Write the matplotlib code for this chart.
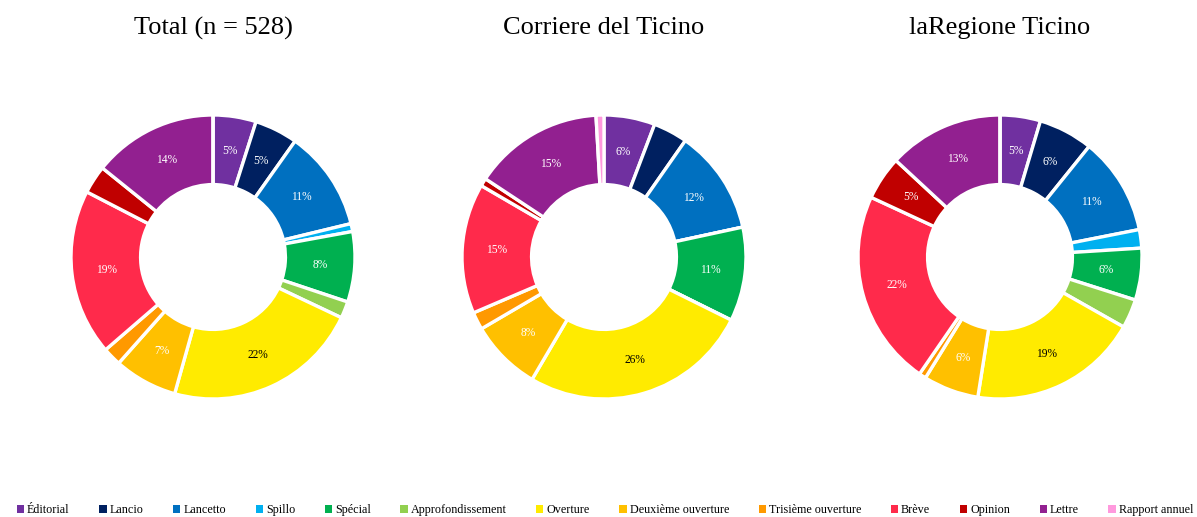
import matplotlib
matplotlib.use("Agg")
import matplotlib.pyplot as plt
from matplotlib.patches import Patch
import numpy as np

plt.rcParams['font.family'] = ['Liberation Serif', 'DejaVu Serif']

categories = ["Éditorial", "Lancio", "Lancetto", "Spillo", "Spécial", "Approfondissement",
              "Overture", "Deuxième ouverture", "Trisième ouverture", "Brève", "Opinion",
              "Lettre", "Rapport annuel"]
colors = ["#7030A0", "#002060", "#0070C0", "#00B0F0", "#00B050", "#92D050",
          "#FFEB00", "#FFC000", "#FF9900", "#FF2A4B", "#C00000", "#922090", "#FF99DD"]

# shares in percent
total = [4.9, 4.9, 11.4, 0.9, 8.0, 1.9, 22.3, 7.2, 2.1, 18.9, 3.2, 14.2, 0.0]
corriere = [5.8, 3.9, 11.9, 0.0, 10.7, 0.0, 26.1, 8.1, 2.0, 14.8, 0.9, 14.8, 0.9]
laregione = [4.6, 6.2, 11.1, 2.1, 5.9, 3.3, 19.3, 6.3, 0.8, 22.3, 5.0, 13.1, 0.0]

titles = ["Total (n = 528)", "Corriere del Ticino", "laRegione Ticino"]
data = [total, corriere, laregione]
centers_x = [213, 604, 1000]

W, H = 1197, 517
fig = plt.figure(figsize=(W / 100, H / 100), dpi=100)

R = 142  # outer radius in pixels
cy = 257
for title, vals, cx in zip(titles, data, centers_x):
    ax = fig.add_axes([(cx - R) / W, (H - cy - R) / H, 2 * R / W, 2 * R / H])
    wedges, texts = ax.pie(vals, colors=colors, startangle=90, counterclock=False,
                           radius=1.0, wedgeprops=dict(width=0.49, edgecolor="white", linewidth=2.4))
    tot = sum(vals)
    for w, v in zip(wedges, vals):
        if v / tot * 100 < 4.5:
            continue  # small slices have no label
        ang = np.deg2rad((w.theta1 + w.theta2) / 2)
        r = 0.755
        col = "black" if w.get_facecolor()[:3] == matplotlib.colors.to_rgb("#FFEB00") else "white"
        ax.text(r * np.cos(ang), r * np.sin(ang), f"{round(v / tot * 100):.0f}%",
                ha="center", va="center", fontsize=8.3, color=col)
    ax.set_xlim(-1, 1)
    ax.set_ylim(-1, 1)
    fig.text(cx / W, 1 - 28 / H, title, ha="center", va="center", fontsize=19)

handles = [Patch(facecolor=c, edgecolor="none", label=n) for c, n in zip(colors, categories)]
fig.legend(handles=handles, loc="center", bbox_to_anchor=(605 / W, 1 - 510 / H), ncol=13,
           frameon=False, fontsize=8.7, handlelength=0.6, handleheight=0.6,
           handletextpad=0.25, columnspacing=2.45, borderaxespad=0)

fig.savefig("out.png", dpi=100)
